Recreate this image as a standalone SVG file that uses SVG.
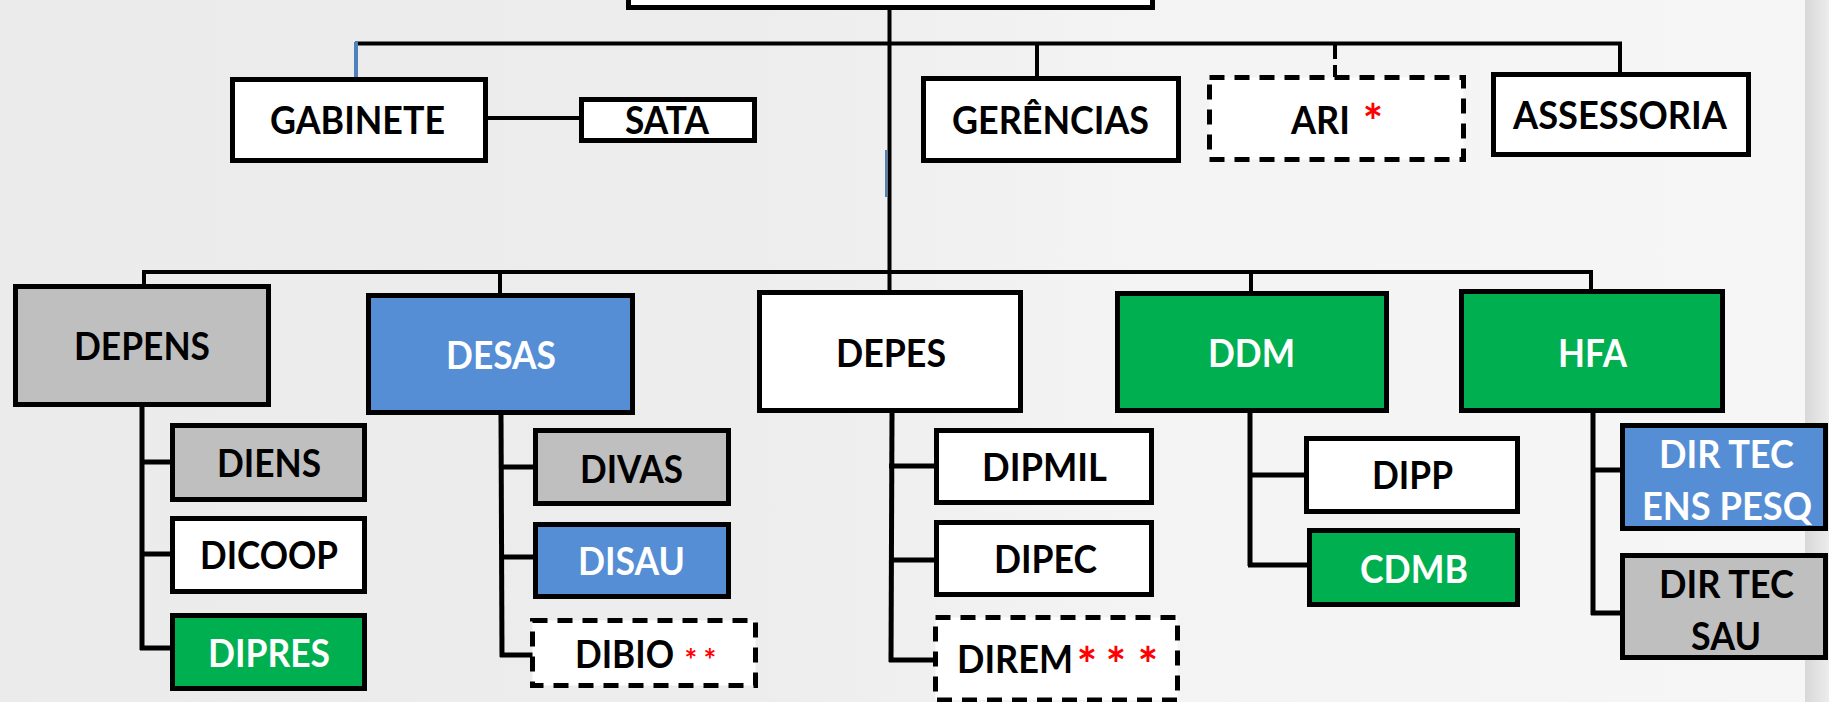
<svg xmlns="http://www.w3.org/2000/svg" width="1829" height="702" viewBox="0 0 1829 702">
<defs>
<linearGradient id="bg" x1="0" y1="0" x2="1" y2="0">
<stop offset="0" stop-color="#ebebeb"/>
<stop offset="0.42" stop-color="#ededed"/>
<stop offset="0.6" stop-color="#f3f3f3"/>
<stop offset="1" stop-color="#f6f6f6"/>
</linearGradient>
<linearGradient id="strip" x1="0" y1="0" x2="1" y2="0">
<stop offset="0" stop-color="#d8d8d8"/>
<stop offset="1" stop-color="#ececec"/>
</linearGradient>
<style>
.box{stroke:#000;stroke-width:5}
.w{fill:#fff}
.g{fill:#bfbfbf}
.b{fill:#558ed5}
.gr{fill:#00b050}
.dash{fill:#fff;stroke:#000;stroke-width:5;stroke-dasharray:15 10}
.t{font-family:Lato,"Open Sans","Liberation Sans",sans-serif;font-weight:bold;font-size:38px;text-anchor:middle;fill:#000}
.tw{fill:#fff}
.st{fill:#ff0000;font-size:48px}
.sts{fill:#ff0000;font-size:30px}
.c{stroke:#000;stroke-width:4;fill:none}
.cs{stroke:#000;stroke-width:5;fill:none}
</style>
</defs>
<rect x="0" y="0" width="1829" height="702" fill="url(#bg)"/>
<rect x="1805" y="0" width="24" height="702" fill="url(#strip)"/>

<g id="connectors">
<line class="c" x1="889.5" y1="8" x2="889.5" y2="292"/>
<line x1="886" y1="150" x2="886" y2="197" stroke="#4f81bd" stroke-width="2"/>
<line class="c" x1="355" y1="43.5" x2="1622" y2="43.5"/>
<line x1="356" y1="42" x2="356" y2="79" stroke="#4f81bd" stroke-width="4"/>
<line class="c" x1="1037" y1="43" x2="1037" y2="78"/>
<line class="c" x1="1335" y1="43" x2="1335" y2="77" stroke-dasharray="16 6"/>
<line class="c" x1="1620" y1="42" x2="1620" y2="74"/>
<line class="c" x1="488" y1="118" x2="581" y2="118" stroke-width="3"/>
<line class="c" x1="142" y1="272" x2="1593" y2="272"/>
<line class="c" x1="144" y1="270" x2="144" y2="286"/>
<line class="c" x1="500" y1="270" x2="500" y2="295"/>
<line class="c" x1="1251" y1="270" x2="1251" y2="293"/>
<line class="c" x1="1591" y1="270" x2="1591" y2="291"/>
<polyline class="cs" points="142,407 142,650"/>
<line class="cs" x1="140" y1="462" x2="172" y2="462"/>
<line class="cs" x1="140" y1="554" x2="172" y2="554"/>
<line class="cs" x1="140" y1="648" x2="172" y2="648"/>
<polyline class="cs" points="501,415 502,657"/>
<line class="cs" x1="500" y1="467" x2="535" y2="467"/>
<line class="cs" x1="500" y1="557" x2="535" y2="557"/>
<line class="cs" x1="500" y1="655" x2="533" y2="655"/>
<polyline class="cs" points="892,413 891,662"/>
<line class="cs" x1="889" y1="466" x2="936" y2="466"/>
<line class="cs" x1="889" y1="560" x2="936" y2="560"/>
<line class="cs" x1="889" y1="660" x2="934" y2="660"/>
<polyline class="cs" points="1250,413 1250,566"/>
<line class="cs" x1="1248" y1="475" x2="1306" y2="475"/>
<line class="cs" x1="1248" y1="565" x2="1309" y2="565"/>
<polyline class="cs" points="1593,413 1593,615"/>
<line class="cs" x1="1591" y1="470" x2="1622" y2="470"/>
<line class="cs" x1="1591" y1="613" x2="1622" y2="613"/>
</g>

<g id="top"><rect class="box w" x="628.5" y="-20" width="524" height="27.5"/></g>

<g id="gabinete"><rect class="box w" x="232.5" y="79.5" width="253" height="81"/>
<text class="t" x="357.5" y="134" textLength="175" lengthAdjust="spacingAndGlyphs">GABINETE</text></g>
<g id="sata"><rect class="box w" x="581.5" y="99.5" width="173" height="41"/>
<text class="t" x="667" y="134" textLength="84" lengthAdjust="spacingAndGlyphs">SATA</text></g>
<g id="gerencias"><rect class="box w" x="923.5" y="78.5" width="255" height="82"/>
<text class="t" x="1050.5" y="134" textLength="197" lengthAdjust="spacingAndGlyphs">GERÊNCIAS</text></g>
<g id="ari"><rect class="dash" x="1209.5" y="77.5" width="254" height="82"/>
<text class="t" x="1320.5" y="134" textLength="59" lengthAdjust="spacingAndGlyphs">ARI</text>
<text class="t st" x="1373" y="138.5">*</text></g>
<g id="assessoria"><rect class="box w" x="1493.5" y="74.5" width="255" height="80"/>
<text class="t" x="1620" y="129" textLength="214" lengthAdjust="spacingAndGlyphs">ASSESSORIA</text></g>

<g id="depens"><rect class="box g" x="15.5" y="286.5" width="253" height="118"/>
<text class="t" x="142" y="360" textLength="136" lengthAdjust="spacingAndGlyphs">DEPENS</text></g>
<g id="desas"><rect class="box b" x="368.5" y="295.5" width="264" height="117"/>
<text class="t tw" x="501" y="369" textLength="110" lengthAdjust="spacingAndGlyphs">DESAS</text></g>
<g id="depes"><rect class="box w" x="759.5" y="292.5" width="261" height="118"/>
<text class="t" x="891" y="367" textLength="110" lengthAdjust="spacingAndGlyphs">DEPES</text></g>
<g id="ddm"><rect class="box gr" x="1117.5" y="293.5" width="269" height="117"/>
<text class="t tw" x="1251.5" y="367" textLength="87" lengthAdjust="spacingAndGlyphs">DDM</text></g>
<g id="hfa"><rect class="box gr" x="1461.5" y="291.5" width="261" height="119"/>
<text class="t tw" x="1592.5" y="367" textLength="69" lengthAdjust="spacingAndGlyphs">HFA</text></g>

<g id="diens"><rect class="box g" x="172.5" y="425.5" width="192" height="74"/>
<text class="t" x="269" y="477" textLength="104" lengthAdjust="spacingAndGlyphs">DIENS</text></g>
<g id="dicoop"><rect class="box w" x="172.5" y="518.5" width="192" height="73"/>
<text class="t" x="269" y="569" textLength="138" lengthAdjust="spacingAndGlyphs">DICOOP</text></g>
<g id="dipres"><rect class="box gr" x="172.5" y="615.5" width="192" height="73"/>
<text class="t tw" x="269" y="667" textLength="122" lengthAdjust="spacingAndGlyphs">DIPRES</text></g>

<g id="divas"><rect class="box g" x="535.5" y="430.5" width="193" height="73"/>
<text class="t" x="631.5" y="483" textLength="103" lengthAdjust="spacingAndGlyphs">DIVAS</text></g>
<g id="disau"><rect class="box b" x="535.5" y="524.5" width="193" height="72"/>
<text class="t tw" x="631.5" y="575" textLength="107" lengthAdjust="spacingAndGlyphs">DISAU</text></g>
<g id="dibio"><rect class="dash" x="532.5" y="620.5" width="223" height="65"/>
<text class="t" x="624.5" y="668" textLength="99" lengthAdjust="spacingAndGlyphs">DIBIO</text>
<text class="t sts" y="671"><tspan x="691">*</tspan><tspan x="710">*</tspan></text></g>

<g id="dipmil"><rect class="box w" x="936.5" y="430.5" width="215" height="72"/>
<text class="t" x="1044.5" y="481" textLength="125" lengthAdjust="spacingAndGlyphs">DIPMIL</text></g>
<g id="dipec"><rect class="box w" x="936.5" y="522.5" width="215" height="72"/>
<text class="t" x="1045.5" y="573" textLength="103" lengthAdjust="spacingAndGlyphs">DIPEC</text></g>
<g id="direm"><rect class="dash" x="935.5" y="617.5" width="242" height="82.5"/>
<text class="t" x="1015" y="673" textLength="116" lengthAdjust="spacingAndGlyphs">DIREM</text>
<text class="t st" y="682"><tspan x="1087">*</tspan><tspan x="1116">*</tspan><tspan x="1148">*</tspan></text></g>

<g id="dipp"><rect class="box w" x="1306.5" y="438.5" width="211" height="73"/>
<text class="t" x="1412.5" y="489" textLength="81" lengthAdjust="spacingAndGlyphs">DIPP</text></g>
<g id="cdmb"><rect class="box gr" x="1309.5" y="530.5" width="208" height="74"/>
<text class="t tw" x="1414" y="583" textLength="108" lengthAdjust="spacingAndGlyphs">CDMB</text></g>

<g id="dirtec-ens-pesq"><rect class="box b" x="1622.5" y="425.5" width="203" height="103"/>
<text class="t tw" x="1726.5" y="468" textLength="135" lengthAdjust="spacingAndGlyphs">DIR TEC</text>
<text class="t tw" x="1727" y="520" textLength="170" lengthAdjust="spacingAndGlyphs">ENS PESQ</text></g>
<g id="dirtec-sau"><rect class="box g" x="1622.5" y="555.5" width="203" height="102"/>
<text class="t" x="1726.5" y="598" textLength="135" lengthAdjust="spacingAndGlyphs">DIR TEC</text>
<text class="t" x="1726" y="650" textLength="70" lengthAdjust="spacingAndGlyphs">SAU</text></g>
</svg>
